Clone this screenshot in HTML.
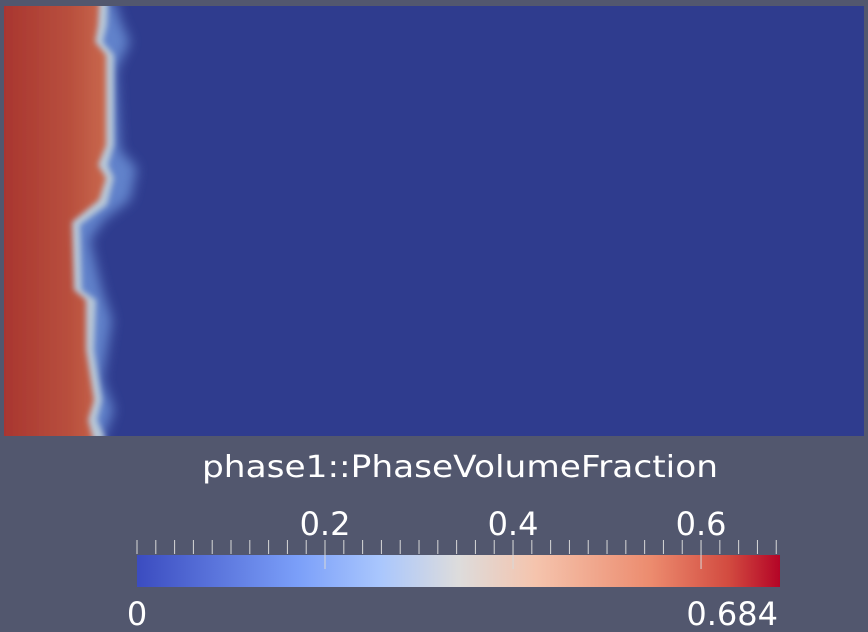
<!DOCTYPE html>
<html><head><meta charset="utf-8"><style>
html,body{margin:0;padding:0;background:#52576e;width:868px;height:632px;overflow:hidden}
svg{display:block;font-family:"DejaVu Sans","Liberation Sans",sans-serif}
</style></head><body>
<svg id="s" width="868" height="632">
<defs>
<linearGradient id="cmap" x1="0" x2="1" y1="0" y2="0">
<stop offset="0" stop-color="#3b4cc0"/><stop offset="0.25" stop-color="#7b9ff9"/>
<stop offset="0.38" stop-color="#aac7fd"/><stop offset="0.5" stop-color="#dddcdc"/>
<stop offset="0.62" stop-color="#f5c4ad"/><stop offset="0.8" stop-color="#ec8b6e"/>
<stop offset="0.92" stop-color="#d24b40"/><stop offset="1" stop-color="#b40426"/>
</linearGradient>
<linearGradient id="red" x1="0" x2="1" y1="0" y2="0">
<stop offset="0" stop-color="#9e1528"/><stop offset="0.1" stop-color="#a8352f"/>
<stop offset="0.7" stop-color="#b9503e"/><stop offset="1" stop-color="#c9684d"/>
</linearGradient>
<filter id="blur" x="-0.2" y="-0.1" width="1.4" height="1.2"><feGaussianBlur stdDeviation="6"/></filter>
<filter id="blur2"><feGaussianBlur stdDeviation="3"/></filter>
<clipPath id="clip"><rect x="4" y="6" width="860" height="430"/></clipPath>
</defs>
<rect x="4" y="6" width="860" height="430" fill="#2f3c8e"/>
<g clip-path="url(#clip)">
<polygon filter="url(#blur)" fill="#6b8fd6" opacity="0.85" points="0,0 114,0 120,20 130,42 116,70 120,150 137,168 130,200 104,220 90,240 102,290 112,320 102,380 114,410 102,440 0,440"/>
<polygon filter="url(#blur2)" fill="#b8c8d8" points="0,0 108,0 107,25 103,42 114,55 114,145 108,165 114,178 107,205 80,225 82,290 96,300 94,350 102,400 97,420 106,440 0,440"/>
<polygon filter="url(#blur2)" fill="url(#red)" points="-10,-10 100,-10 98,25 95,42 106,55 106,145 98,165 106,178 99,200 72,222 74,290 86,300 86,350 94,400 88,420 96,450 -10,450"/>
</g>
<text x="202" y="477" font-size="30" fill="#fff" textLength="516" lengthAdjust="spacingAndGlyphs">phase1::PhaseVolumeFraction</text>
<rect x="137" y="555" width="643" height="32" fill="url(#cmap)"/>
<g id="ticks"></g>
<text x="137" y="625" font-size="32" fill="#fff" text-anchor="middle">0</text>
<text x="778" y="625" font-size="32" fill="#fff" text-anchor="end">0.684</text>
</svg>
<script>
const rangeMin = 0, rangeMax = 0.684;
const majorTicks = [0.2, 0.4, 0.6];
const majorLabels = ["0.2", "0.4", "0.6"];
const minorStep = 0.02;
const X0 = 137, X1 = 780;
const sx = v => X0 + (v - rangeMin) / (rangeMax - rangeMin) * (X1 - X0);
const ns = "http://www.w3.org/2000/svg";
const g = document.getElementById('ticks');
for (let i = 0; i * minorStep <= rangeMax + 1e-9; i++) {
  const x = sx(i * minorStep);
  const l = document.createElementNS(ns, 'line');
  l.setAttribute('x1', x); l.setAttribute('x2', x);
  l.setAttribute('y1', 540); l.setAttribute('y2', 554);
  l.setAttribute('stroke', '#d8d8d8'); l.setAttribute('stroke-width', 1);
  
  
  g.appendChild(l);
}
majorTicks.forEach((v, i) => {
  const x = sx(v);
  const l = document.createElementNS(ns, 'line');
  l.setAttribute('x1', x); l.setAttribute('x2', x);
  l.setAttribute('y1', 540); l.setAttribute('y2', 569);
  l.setAttribute('stroke', '#d8d8d8'); l.setAttribute('stroke-width', 1);
  
  
  g.appendChild(l);
  const t = document.createElementNS(ns, 'text');
  t.setAttribute('x', x); t.setAttribute('y', 535);
  t.setAttribute('font-size', 32); t.setAttribute('fill', '#fff');
  t.setAttribute('text-anchor', 'middle');
  t.textContent = majorLabels[i];
  
  
  g.appendChild(t);
});
</script>
</body></html>
